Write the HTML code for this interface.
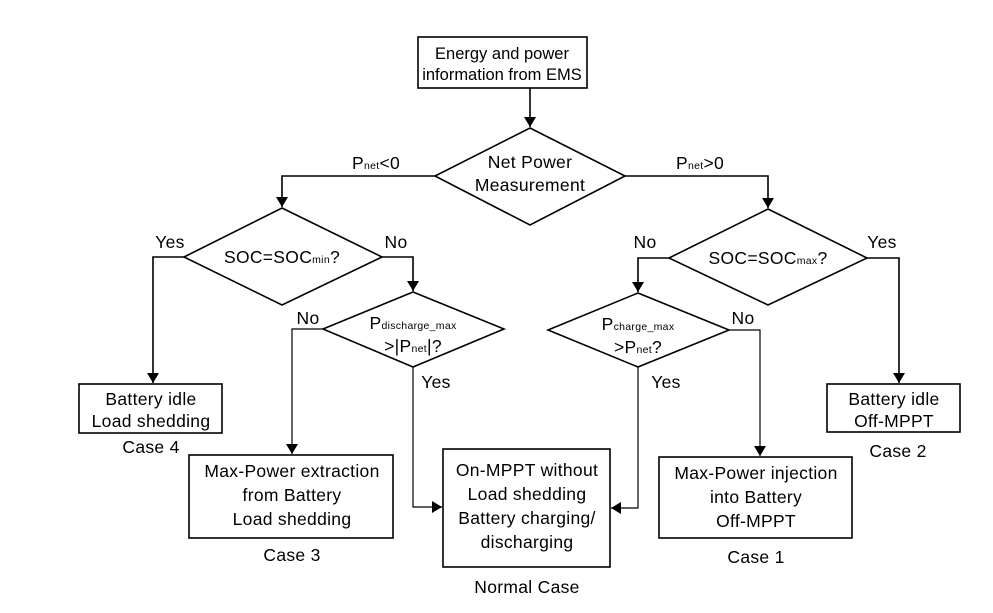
<!DOCTYPE html>
<html><head><meta charset="utf-8"><style>
html,body{margin:0;padding:0;background:#fff;}
svg{display:block;}
text{font-family:"Liberation Sans",sans-serif;font-size:17.5px;letter-spacing:0.3px;fill:#000;text-anchor:middle;}
.s{font-size:10.5px;letter-spacing:0.3px;}
.t{font-size:16.5px;letter-spacing:0;}
</style></head><body>
<svg width="993" height="613" viewBox="0 0 993 613" xmlns="http://www.w3.org/2000/svg">
<defs><marker id="a" markerWidth="10" markerHeight="14" refX="10" refY="7" orient="auto" markerUnits="userSpaceOnUse"><path d="M0,1 L10,7 L0,13 z" fill="#000"/></marker></defs>
<g fill="none" stroke="#000" stroke-width="1.6">
<rect x="418" y="37" width="169" height="51"/>
<polygon points="530,128 625,176 530,225 435,176"/>
<polygon points="282,208 382,257 282,305 184,257"/>
<polygon points="413,292 504,329 413,367 323,329"/>
<polygon points="768,209 867,258 768,305 669,258"/>
<polygon points="638,293 729,330 638,367 548,330"/>
<rect x="79" y="384" width="143" height="49"/>
<rect x="189" y="455" width="204" height="83"/>
<rect x="443" y="449" width="167" height="118"/>
<rect x="659" y="457" width="193" height="81"/>
<rect x="827" y="384" width="133" height="48"/>
<path d="M530,88 V127" marker-end="url(#a)"/>
<path d="M435,176 H282 V207" marker-end="url(#a)"/>
<path d="M625,176 H768 V208" marker-end="url(#a)"/>
<path d="M184,257 H153 V383" marker-end="url(#a)"/>
<path d="M382,257 H413 V291" marker-end="url(#a)"/>
<path d="M669,258 H638 V292" marker-end="url(#a)"/>
<path d="M867,258 H899 V383" marker-end="url(#a)"/>
<g stroke-width="1.2">
<path d="M323,329 H292 V454" marker-end="url(#a)"/>
<path d="M413,367 V507 H442" marker-end="url(#a)"/>
<path d="M729,330 H760 V456" marker-end="url(#a)"/>
<path d="M638,367 V508 H611" marker-end="url(#a)"/>
</g>
</g>
<text class="t" x="502" y="59">Energy and power</text>
<text class="t" x="502" y="80">information from EMS</text>
<text x="530" y="168">Net Power</text>
<text x="530" y="191">Measurement</text>
<text x="376" y="169">P<tspan class="s">net</tspan>&lt;0</text>
<text x="700" y="169">P<tspan class="s">net</tspan>&gt;0</text>
<text x="282" y="263">SOC=SOC<tspan class="s">min</tspan>?</text>
<text x="768" y="264">SOC=SOC<tspan class="s">max</tspan>?</text>
<text x="170" y="248">Yes</text>
<text x="396" y="248">No</text>
<text x="645" y="248">No</text>
<text x="882" y="248">Yes</text>
<text x="308" y="324">No</text>
<text x="743" y="324">No</text>
<text x="413" y="329">P<tspan class="s">discharge_max</tspan></text>
<text x="413" y="352">&gt;|P<tspan class="s">net</tspan>|?</text>
<text x="638" y="330">P<tspan class="s">charge_max</tspan></text>
<text x="638" y="353">&gt;P<tspan class="s">net</tspan>?</text>
<text x="436" y="388">Yes</text>
<text x="666" y="388">Yes</text>
<text x="151" y="405">Battery idle</text>
<text x="151" y="427">Load shedding</text>
<text x="151" y="453">Case 4</text>
<text x="292" y="477">Max-Power extraction</text>
<text x="292" y="501">from Battery</text>
<text x="292" y="525">Load shedding</text>
<text x="292" y="561">Case 3</text>
<text x="527" y="476">On-MPPT without</text>
<text x="527" y="500">Load shedding</text>
<text x="527" y="524">Battery charging/</text>
<text x="527" y="548">discharging</text>
<text x="527" y="593">Normal Case</text>
<text x="756" y="479">Max-Power injection</text>
<text x="756" y="503">into Battery</text>
<text x="756" y="527">Off-MPPT</text>
<text x="756" y="563">Case 1</text>
<text x="894" y="405">Battery idle</text>
<text x="894" y="427">Off-MPPT</text>
<text x="898" y="457">Case 2</text>
</svg>
</body></html>
